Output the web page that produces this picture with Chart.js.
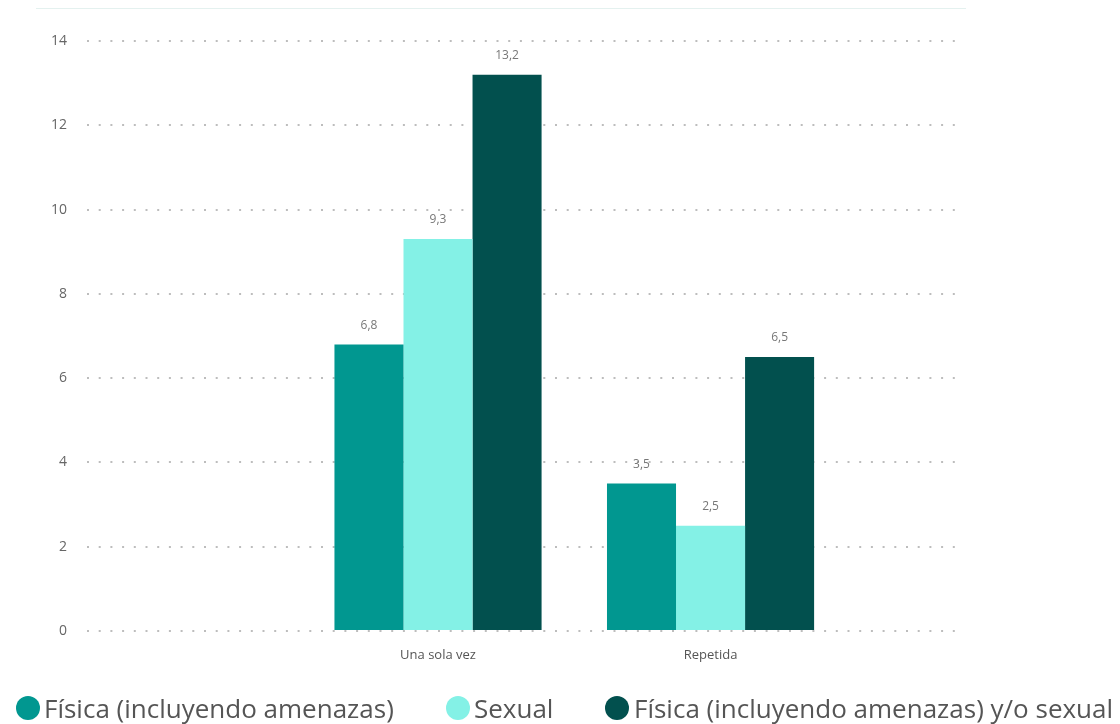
<!DOCTYPE html>
<html>
<head>
<meta charset="utf-8">
<script src="https://cdn.jsdelivr.net/npm/chart.js@4.4.1/dist/chart.umd.min.js"></script>
<style>
  html, body { margin: 0; padding: 0; background: #fff; }
  #wrap { position: relative; width: 1120px; height: 724px; overflow: hidden; }
  #c { position: absolute; left: 0; top: 0; }
  #topline { position: absolute; left: 36px; top: 8px; width: 930px; height: 1px; background: #e4f1ef; }
  .leg { position: absolute; top: 691px; font-family: "Open Sans", "Noto Sans", sans-serif; font-size: 26px; color: #555; white-space: nowrap; line-height: 34px; }
  .dot { position: absolute; top: 696px; width: 24px; height: 24px; border-radius: 50%; }
</style>
</head>
<body>
<div id="wrap">
  <canvas id="c" width="1120" height="724"></canvas>
  <div id="topline"></div>
  <div id="legend"></div>
</div>
<script>
const categories = ["Una sola vez", "Repetida"];
const seriesNames = ["Física (incluyendo amenazas)", "Sexual", "Física (incluyendo amenazas) y/o sexual"];
const fisica = [6.8, 3.5];
const sexual = [9.3, 2.5];
const fisicaOSexual = [13.2, 6.5];
const yTicks = [0, 2, 4, 6, 8, 10, 12, 14];
const colors = ["#019790", "#84F1E6", "#02504E"];

const seriesValues = [fisica, sexual, fisicaOSexual];

// legend (HTML text)
const legendPos = [
  { dot: 16, text: 44 },
  { dot: 446, text: 474 },
  { dot: 605, text: 634 }
];
const legendEl = document.getElementById('legend');
seriesNames.forEach((n, i) => {
  const d = document.createElement('div');
  d.className = 'dot';
  d.style.left = legendPos[i].dot + 'px';
  d.style.background = colors[i];
  legendEl.appendChild(d);
  const t = document.createElement('div');
  t.className = 'leg';
  t.style.left = legendPos[i].text + 'px';
  t.textContent = n;
  legendEl.appendChild(t);
});

const fmt = v => v.toFixed(1).replace('.', ',');

const datasets = seriesNames.map((n, i) => ({
  label: n,
  data: seriesValues[i].map((v, j) => ({ x: j + 1, y: v })),
  backgroundColor: colors[i],
  borderWidth: 0,
  barPercentage: 1,
  categoryPercentage: 0.76
}));

const valueLabels = {
  id: 'valueLabels',
  afterDatasetsDraw(chart) {
    const ctx = chart.ctx;
    ctx.save();
    ctx.font = '12px "Open Sans", "Noto Sans", sans-serif';
    ctx.fillStyle = '#777';
    ctx.textAlign = 'center';
    ctx.textBaseline = 'bottom';
    chart.data.datasets.forEach((ds, i) => {
      chart.getDatasetMeta(i).data.forEach((bar, j) => {
        ctx.fillText(fmt(ds.data[j].y), bar.x, bar.y - 13);
      });
    });
    ctx.restore();
  }
};

new Chart(document.getElementById('c'), {
  type: 'bar',
  data: { datasets },
  options: {
    responsive: false,
    animation: false,
    events: [],
    layout: { padding: { top: 41, right: 159, bottom: 0, left: 0 } },
    plugins: { legend: { display: false }, tooltip: { enabled: false } },
    scales: {
      x: {
        type: 'linear',
        min: -0.288,
        max: 2.919,
        offset: false,
        afterBuildTicks(scale) { scale.ticks = categories.map((c, i) => ({ value: i + 1 })); },
        afterFit(scale) { scale.height = 93; },
        ticks: {
          callback: (v) => categories[v - 1] ?? '',
          color: '#555',
          font: { family: '"Open Sans", "Noto Sans", sans-serif', size: 13 },
          padding: 16,
          maxRotation: 0,
          autoSkip: false
        },
        grid: { display: false, drawTicks: false },
        border: { display: false }
      },
      y: {
        min: 0,
        max: 14,
        afterBuildTicks(scale) { scale.ticks = yTicks.map(v => ({ value: v })); },
        afterFit(scale) { scale.width = 87; },
        ticks: {
          color: '#666',
          font: { family: '"Open Sans", "Noto Sans", sans-serif', size: 14 },
          padding: 20
        },
        grid: { color: '#bdbdbd', lineWidth: 2, drawTicks: false },
        border: { display: false, dash: [2, 9.7] }
      }
    }
  },
  plugins: [valueLabels]
});
</script>
</body>
</html>
